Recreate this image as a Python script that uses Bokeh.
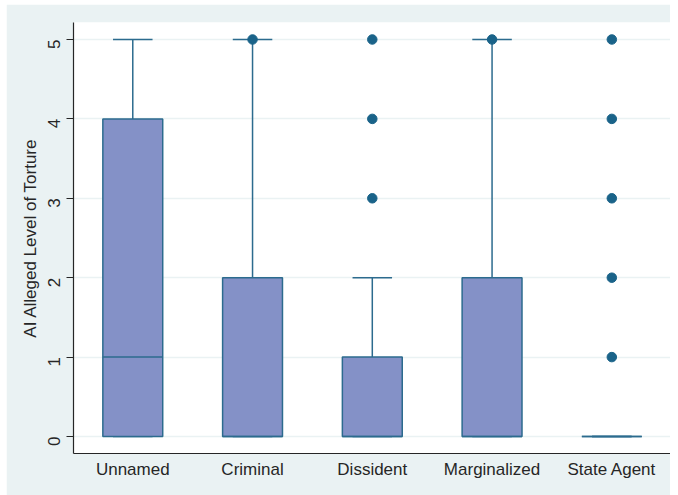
import math
from bokeh.plotting import figure
from bokeh.models import Range1d, FixedTicker, ColumnDataSource
from bokeh.embed import file_html
from bokeh.resources import INLINE

# ---- data ----
categories = ["Unnamed", "Criminal", "Dissident", "Marginalized", "State Agent"]
q1 = [0, 0, 0, 0, 0]
median = [1, 0, 0, 0, 0]
q3 = [4, 2, 1, 2, 0]
lower_whisker = [0, 0, 0, 0, 0]
upper_whisker = [5, 5, 2, 5, 0]
outliers = [[], [5], [3, 4, 5], [5], [1, 2, 3, 4, 5]]
y_ticks = [0, 1, 2, 3, 4, 5]

BG = "#EAF2F3"
BOX_FILL = "#8491C7"
LINE = "#2C6B8E"
DOT = "#1A6389"
TEXT = "#262626"
FONT = "Liberation Sans"

xs = list(range(1, len(categories) + 1))
box_w = 0.5
cap_w = 0.33

p = figure(width=664, height=491, output_backend="svg", toolbar_location=None,
           x_range=Range1d(0.505, 5.49), y_range=Range1d(-0.214, 5.214),
           min_border_left=67, min_border_right=0, min_border_top=18, min_border_bottom=42)
p.margin = (4, 0, 0, 6)
p.background_fill_color = "white"
p.border_fill_color = BG
p.outline_line_color = None

src = ColumnDataSource(dict(x=xs, q1=q1, med=median, q3=q3, lw=lower_whisker, uw=upper_whisker,
                            cl=[x - cap_w / 2 for x in xs], cr=[x + cap_w / 2 for x in xs],
                            bl=[x - box_w / 2 for x in xs], br=[x + box_w / 2 for x in xs]))

# whiskers
p.segment(x0="x", y0="q3", x1="x", y1="uw", source=src, line_color=LINE, line_width=1.5)
p.segment(x0="x", y0="q1", x1="x", y1="lw", source=src, line_color=LINE, line_width=1.5)
# caps
p.segment(x0="cl", y0="uw", x1="cr", y1="uw", source=src, line_color=LINE, line_width=1.5)
p.segment(x0="cl", y0="lw", x1="cr", y1="lw", source=src, line_color=LINE, line_width=1.5)
# boxes
p.vbar(x="x", width=box_w, top="q3", bottom="q1", source=src,
       fill_color=BOX_FILL, line_color=LINE, line_width=1.5)
# medians
p.segment(x0="bl", y0="med", x1="br", y1="med", source=src, line_color=LINE, line_width=1.5)

# outliers
ox, oy = [], []
for x, outs in zip(xs, outliers):
    for v in outs:
        ox.append(x)
        oy.append(v)
p.scatter(ox, oy, size=9.5, fill_color=DOT, line_color=DOT)

# grid
p.xgrid.grid_line_color = None
p.ygrid.ticker = FixedTicker(ticks=y_ticks)
p.ygrid.grid_line_color = BG
p.ygrid.grid_line_width = 1.5

# x axis
p.xaxis.ticker = FixedTicker(ticks=xs)
p.xaxis.major_label_overrides = {x: c for x, c in zip(xs, categories)}
p.xaxis.major_tick_out = 0
p.xaxis.major_tick_in = 0
p.xaxis.minor_tick_out = 0
p.xaxis.minor_tick_in = 0
p.xaxis.major_label_standoff = 6
p.xaxis.axis_line_color = TEXT
p.xaxis.axis_line_width = 1.2

# y axis
p.yaxis.ticker = FixedTicker(ticks=y_ticks)
p.yaxis.major_tick_out = 7
p.yaxis.major_tick_in = 0
p.yaxis.minor_tick_out = 0
p.yaxis.minor_tick_in = 0
p.yaxis.major_tick_line_color = TEXT
p.yaxis.axis_line_color = TEXT
p.yaxis.axis_line_width = 1.2
p.yaxis.major_label_orientation = math.pi / 2
p.yaxis.major_label_standoff = 12
p.yaxis.axis_label = "AI Alleged Level of Torture"
p.yaxis.axis_label_standoff = 0

for ax in (p.xaxis, p.yaxis):
    ax.major_label_text_font = FONT
    ax.major_label_text_font_size = "17px"
    ax.major_label_text_color = TEXT
    ax.axis_label_text_font = FONT
    ax.axis_label_text_font_size = "17px"
    ax.axis_label_text_font_style = "normal"
    ax.axis_label_text_color = TEXT

open("out.html", "w").write(file_html(p, INLINE))
